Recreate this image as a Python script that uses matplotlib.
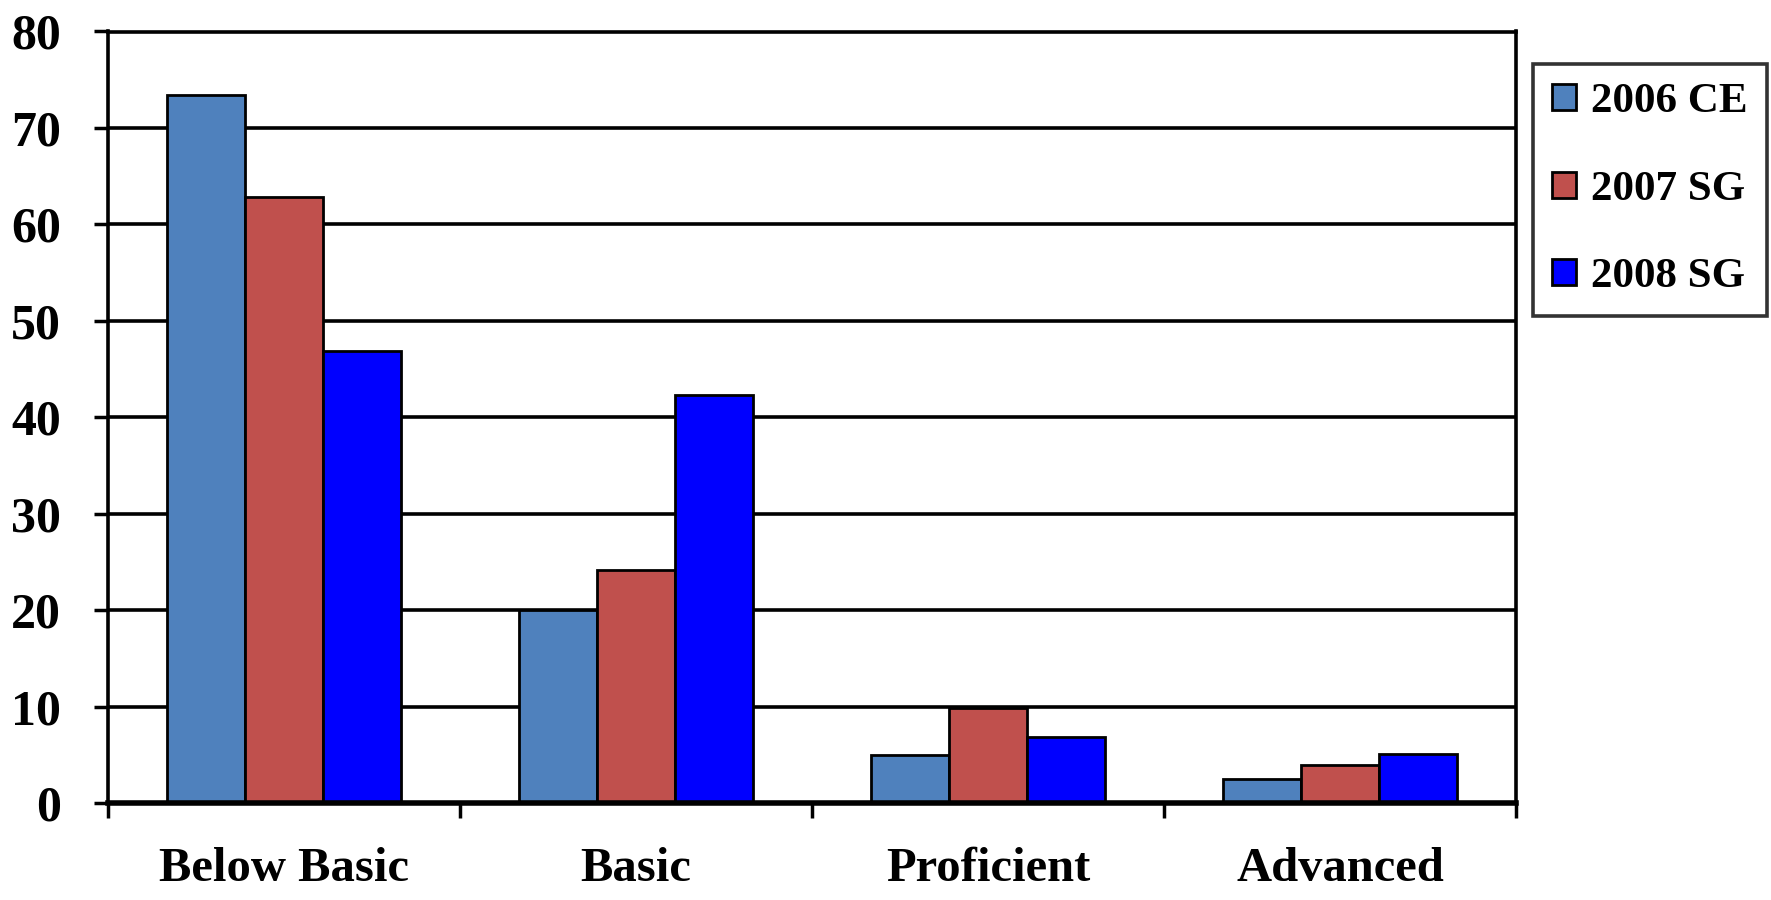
import numpy as np
import matplotlib
matplotlib.use("Agg")
import matplotlib.pyplot as plt

# Data
categories = ["Below Basic", "Basic", "Proficient", "Advanced"]
series_names = ["2006 CE", "2007 SG", "2008 SG"]
vals_2006 = [73.4, 20.0, 5.0, 2.5]
vals_2007 = [62.8, 24.2, 9.8, 3.9]
vals_2008 = [46.9, 42.3, 6.8, 5.1]
colors = ["#4F81BD", "#C0504D", "#0000FF"]
yticks = [0, 10, 20, 30, 40, 50, 60, 70, 80]

plt.rcParams["font.family"] = ["Liberation Serif", "DejaVu Serif"]
plt.rcParams["font.weight"] = "bold"

fig = plt.figure(figsize=(17.71, 9.0), dpi=100)
ax = fig.add_axes([0.061, 0.1078, 0.795, 0.8572])

x = np.arange(len(categories))
w = 0.222
all_vals = [vals_2006, vals_2007, vals_2008]
for i, (name, vals, c) in enumerate(zip(series_names, all_vals, colors)):
    ax.bar(x + (i - 1) * w, vals, width=w, color=c, edgecolor="black",
           linewidth=2.0, label=name, zorder=3)

ax.set_xlim(-0.5, len(categories) - 0.5)
ax.set_ylim(0, 80)

# horizontal grid lines
for yv in yticks[1:]:
    ax.axhline(yv, color="black", linewidth=2.6, zorder=1)

ax.set_yticks(yticks)
ax.set_yticklabels([str(v) for v in yticks], fontsize=36, fontweight="bold")
ax.tick_params(axis="y", direction="out", length=10, width=2.5, pad=24)

ax.set_xticks(x)
ax.set_xticklabels(categories, fontsize=35, fontweight="bold")
ax.tick_params(axis="x", which="major", length=0, pad=32)
ax.set_xticks(np.arange(len(categories) + 1) - 0.5, minor=True)
ax.tick_params(axis="x", which="minor", direction="out", length=11, width=2.5)

for side in ["left", "right", "top"]:
    ax.spines[side].set_linewidth(2.6)
ax.spines["bottom"].set_linewidth(4.0)
ax.spines["bottom"].set_zorder(4)

leg = fig.legend(loc="upper left", bbox_to_anchor=(0.8656, 0.9289),
                 borderaxespad=0, frameon=True, fancybox=False,
                 edgecolor="black", handlelength=0.55, handleheight=0.55,
                 handletextpad=0.35, labelspacing=1.15, borderpad=0.45,
                 prop={"weight": "bold", "size": 31})
leg.get_frame().set_linewidth(2.6)
for h in leg.legend_handles:
    h.set_linewidth(2.0)

fig.savefig("out.png", dpi=100)
